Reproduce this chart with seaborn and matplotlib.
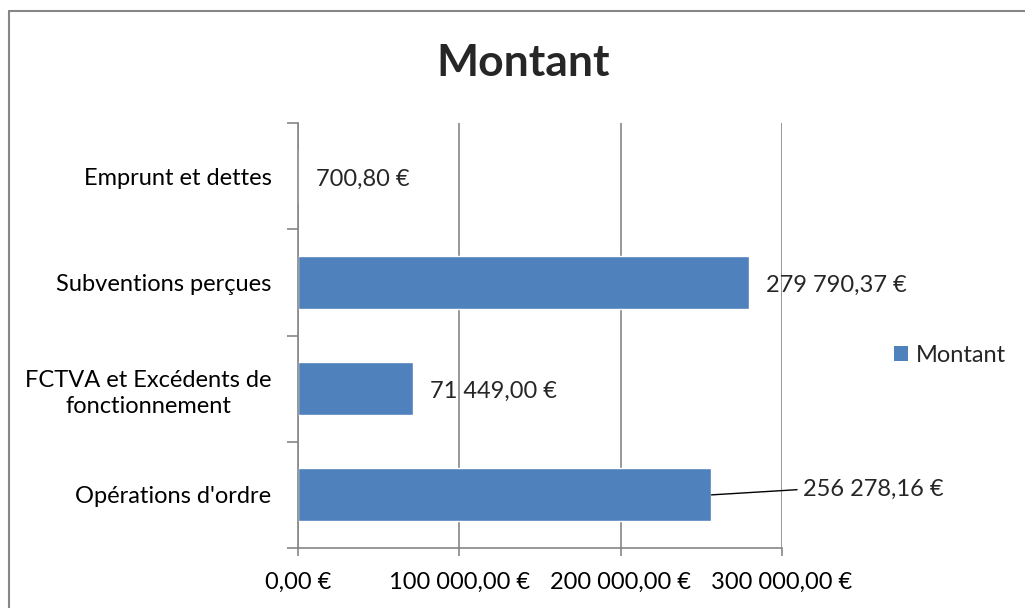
import matplotlib
matplotlib.use("Agg")
import matplotlib.pyplot as plt
import seaborn as sns
import pandas as pd
from matplotlib.lines import Line2D
from matplotlib.patches import Patch

categories = ["Emprunt et dettes", "Subventions perçues",
              "FCTVA et Excédents de\nfonctionnement", "Opérations d'ordre"]
values = [700.80, 279790.37, 71449.00, 256278.16]
series_name = "Montant"
x_ticks = [0, 100000, 200000, 300000]

def fr_eur(v):
    s = f"{v:,.2f}".replace(",", " ").replace(".", ",")
    return s + " €"

sns.set_theme(style="white")
plt.rcParams['font.family'] = ['Lato', 'DejaVu Sans']

FS = 17

df = pd.DataFrame({"cat": categories, "val": values, "serie": series_name})

W, H = 1025, 608
fig = plt.figure(figsize=(W / 100, H / 100), dpi=100)
ax = fig.add_axes([298 / W, 1 - 548 / H, (782 - 298) / W, (548 - 123) / H])

sns.barplot(data=df, y="cat", x="val", hue="serie", palette=["#4F81BD"],
            orient="h", width=0.5, ax=ax, legend=False, saturation=1)

ax.set_xlim(0, 300000)
ax.set_ylim(3.5, -0.5)
ax.set_xticks(x_ticks)
ax.set_xticklabels([fr_eur(t) for t in x_ticks], fontsize=FS)
ax.set_xlabel("")
ax.set_ylabel("")
ax.set_yticks(range(len(categories)))
ax.set_yticklabels(categories, fontsize=FS, multialignment="center", linespacing=1.3)
ax.set_yticks([-0.5, 0.5, 1.5, 2.5, 3.5], minor=True)
ax.tick_params(axis="y", which="major", length=0, pad=19, colors="black")
ax.tick_params(axis="y", which="minor", length=8, width=1.2, color="#868686", left=True)
ax.tick_params(axis="x", which="major", length=6, width=1.2, color="#868686",
               pad=11, bottom=True, labelcolor="black")

ax.grid(axis="x", color="#868686", linewidth=1.2)
ax.grid(axis="y", visible=False)
ax.set_axisbelow(True)
for side in ["top", "right"]:
    ax.spines[side].set_visible(False)
for side in ["left", "bottom"]:
    ax.spines[side].set_color("#868686")
    ax.spines[side].set_linewidth(1.2)

# Data labels
for i, v in enumerate(values):
    if i == 3:
        ax.annotate(fr_eur(v), xy=(v, i), xytext=(66, 4), textcoords="offset points",
                    va="center", ha="left", fontsize=FS,
                    arrowprops=dict(arrowstyle="-", color="black", lw=1.0,
                                    shrinkA=2, shrinkB=0,
                                    relpos=(0, 0.5)))
    else:
        ax.annotate(fr_eur(v), xy=(v, i), xytext=(12, -2), textcoords="offset points",
                    va="center", ha="left", fontsize=FS)

fig.text(523 / W, 1 - 63 / H, "Montant", ha="center", va="center",
         fontsize=32, fontweight="bold")

handles = [Patch(facecolor="#4F81BD", edgecolor="none", label=series_name)]
fig.legend(handles=handles, loc="center left", bbox_to_anchor=(882 / W, 1 - 355 / H),
           frameon=False, fontsize=FS, handlelength=0.6, handleheight=0.6,
           handletextpad=0.35, borderpad=0)

# Chart area border
fig.add_artist(Line2D([8.5 / W, 8.5 / W], [0, 1 - 11 / H], color="#868686", lw=1.5,
                      transform=fig.transFigure))
fig.add_artist(Line2D([8.5 / W, 1], [1 - 11 / H, 1 - 11 / H], color="#868686", lw=1.5,
                      transform=fig.transFigure))

fig.savefig("out.png", dpi=100, facecolor="white")
